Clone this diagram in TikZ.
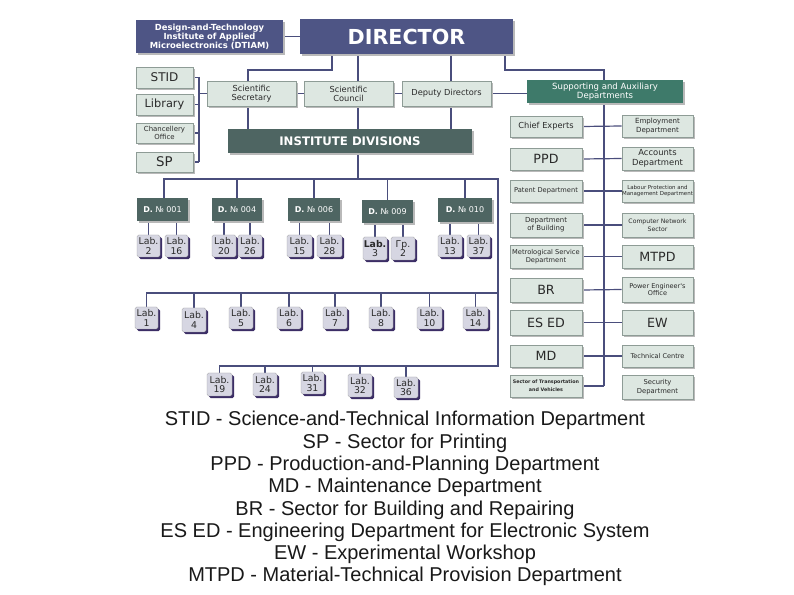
\documentclass[tikz,border=0pt]{standalone}
\usepackage{fontspec}
\setmainfont{Liberation Sans}
\newfontfamily\dv{DejaVu Sans}
\usetikzlibrary{shadows,backgrounds}
\definecolor{dirblue}{HTML}{4E5585}
\definecolor{divteal}{HTML}{4E6562}
\definecolor{supgreen}{HTML}{3E7A6A}
\definecolor{lightfill}{HTML}{DDE7E1}
\definecolor{lightedge}{HTML}{8E9C96}
\definecolor{labfill}{HTML}{D6D6E2}
\definecolor{labshadow}{HTML}{3C2E66}
\definecolor{linec}{HTML}{4A4E7C}
\definecolor{txt}{HTML}{2A2A2A}
\newcommand\bx[7]{\node[#6, minimum width={(#4-#2)*0.75pt}, minimum height={(#5-#3)*0.75pt}] (#1) at ({(#2+#4)/2},{(#3+#5)/2}) {#7};}
\tikzset{
  basebox/.style={inner sep=0pt, align=center, text=txt},
  darkbox/.style={basebox, fill=dirblue, text=white, general shadow={fill=gray!55, shadow xshift=1.5pt, shadow yshift=-1.5pt}},
  divbox/.style={basebox, fill=divteal, text=white, general shadow={fill=gray!55, shadow xshift=1.3pt, shadow yshift=-1.3pt}},
  supbox/.style={basebox, fill=supgreen, text=white, general shadow={fill=gray!55, shadow xshift=1.3pt, shadow yshift=-1.3pt}},
  lightbox/.style={basebox, fill=lightfill, draw=lightedge, line width=0.4pt, general shadow={fill=gray!55, shadow xshift=1.4pt, shadow yshift=-1.4pt}},
  labbox/.style={basebox, fill=labfill, draw=gray!70, line width=0.3pt, rounded corners=1.2pt, general shadow={fill=labshadow, shadow xshift=1.6pt, shadow yshift=-1.6pt}, font=\dv\fontsize{7}{7}\selectfont},
  conn/.style={draw=linec, line width=0.9pt},
  legend/.style={anchor=base, inner sep=0pt, text=black!90, font=\fontsize{15}{17}\selectfont}
}
\begin{document}
\begin{tikzpicture}[x=0.75pt, y=-0.75pt]
\useasboundingbox (0,0) rectangle (794,595);
% top
\bx{dtiam}{136}{20}{283}{53}{darkbox, font=\dv\bfseries\fontsize{6.3}{6.7}\selectfont}{Design-and-Technology\\Institute of Applied\\Microelectronics (DTIAM)}
\bx{director}{300}{19}{513}{54}{darkbox, font=\dv\bfseries\fontsize{15.5}{16}\selectfont}{DIRECTOR}
% left column
\bx{stid}{136}{67}{193}{88}{lightbox, font=\dv\fontsize{9}{10}\selectfont}{STID}
\bx{library}{136}{94}{193}{115}{lightbox, font=\dv\fontsize{8.5}{10}\selectfont}{Library}
\bx{chanc}{136}{123}{193}{143}{lightbox, font=\dv\fontsize{5.2}{5.8}\selectfont}{Chancellery\\Office}
\bx{sp}{136}{152}{193}{172}{lightbox, font=\dv\fontsize{10}{11}\selectfont}{SP}
% second row
\bx{scisec}{207}{81}{296}{106}{lightbox, font=\dv\fontsize{6.2}{6.8}\selectfont}{Scientific\\Secretary}
\bx{council}{304}{81}{393}{106}{lightbox, font=\dv\fontsize{6.2}{6.8}\selectfont}{Scientific\\Council}
\bx{deputy}{402}{81}{491}{106}{lightbox, font=\dv\fontsize{6.2}{6.8}\selectfont}{Deputy Directors}
\bx{support}{527}{80}{683}{103}{supbox, font=\dv\fontsize{6.4}{7}\selectfont}{Supporting and Auxiliary\\Departments}
% institute divisions
\bx{instdiv}{228}{129}{472}{153}{divbox, font=\dv\bfseries\fontsize{8.8}{10}\selectfont}{INSTITUTE DIVISIONS}
% divisions
\bx{d001}{137}{198}{188}{221}{divbox, font=\dv\fontsize{6}{7}\selectfont}{\textbf{D.} № 001}
\bx{d004}{212}{198}{262}{221}{divbox, font=\dv\fontsize{6}{7}\selectfont}{\textbf{D.} № 004}
\bx{d006}{288}{198}{340}{221}{divbox, font=\dv\fontsize{6}{7}\selectfont}{\textbf{D.} № 006}
\bx{d009}{362}{200}{413}{223}{divbox, font=\dv\fontsize{6}{7}\selectfont}{\textbf{D.} № 009}
\bx{d010}{438}{198}{492}{222}{divbox, font=\dv\fontsize{6}{7}\selectfont}{\textbf{D.} № 010}
% labs under divisions
\bx{lab2}{137}{235}{160}{257}{labbox}{Lab.\\2}
\bx{lab16}{165}{235}{188}{257}{labbox}{Lab.\\16}
\bx{lab20}{212}{235}{236}{257}{labbox}{Lab.\\20}
\bx{lab26}{238}{235}{262}{257}{labbox}{Lab.\\26}
\bx{lab15}{287}{235}{312}{257}{labbox}{Lab.\\15}
\bx{lab28}{317}{235}{342}{257}{labbox}{Lab.\\28}
\bx{lab3}{363}{237}{387}{260}{labbox}{\textbf{Lab.}\\3}
\bx{gr2}{391}{237}{415}{260}{labbox}{Гр.\\2}
\bx{lab13}{438}{235}{462}{257}{labbox}{Lab.\\13}
\bx{lab37}{467}{235}{490}{257}{labbox}{Lab.\\37}
% row 3
\bx{lab1}{135}{307}{158}{329}{labbox}{Lab.\\1}
\bx{lab4}{182}{308}{206}{332}{labbox}{Lab.\\4}
\bx{lab5}{229}{307}{253}{329}{labbox}{Lab.\\5}
\bx{lab6}{277}{307}{301}{329}{labbox}{Lab.\\6}
\bx{lab7}{323}{307}{347}{329}{labbox}{Lab.\\7}
\bx{lab8}{369}{307}{393}{329}{labbox}{Lab.\\8}
\bx{lab10}{417}{307}{442}{329}{labbox}{Lab.\\10}
\bx{lab14}{463}{307}{488}{329}{labbox}{Lab.\\14}
% row 4
\bx{lab19}{207}{373}{232}{396}{labbox}{Lab.\\19}
\bx{lab24}{253}{373}{277}{396}{labbox}{Lab.\\24}
\bx{lab31}{301}{372}{324}{394}{labbox}{Lab.\\31}
\bx{lab32}{348}{374}{372}{397}{labbox}{Lab.\\32}
\bx{lab36}{394}{377}{418}{398}{labbox}{Lab.\\36}
% right column, left boxes
\bx{chief}{510}{116}{582}{137}{lightbox, font=\dv\fontsize{6.2}{7}\selectfont}{Chief Experts}
\bx{ppd}{510}{148}{582}{170}{lightbox, font=\dv\fontsize{9.5}{10}\selectfont}{PPD}
\bx{patent}{510}{180}{582}{202}{lightbox, font=\dv\fontsize{5}{6}\selectfont}{Patent Department}
\bx{building}{510}{213}{582}{237}{lightbox, font=\dv\fontsize{5.2}{6.2}\selectfont}{Department\\of Building}
\bx{metro}{510}{245}{582}{268}{lightbox, font=\dv\fontsize{5}{6}\selectfont}{Metrological Service\\Department}
\bx{br}{510}{278}{582}{302}{lightbox, font=\dv\fontsize{9.5}{10}\selectfont}{BR}
\bx{esed}{510}{310}{582}{335}{lightbox, font=\dv\fontsize{9.5}{10}\selectfont}{ES ED}
\bx{md}{510}{345}{582}{367}{lightbox, font=\dv\fontsize{9.5}{10}\selectfont}{MD}
\bx{transp}{510}{375}{582}{397}{lightbox, font=\dv\bfseries\fontsize{3.6}{6}\selectfont}{Sector of Transportation\\and Vehicles}
% right column, right boxes
\bx{employ}{622}{115}{693}{137}{lightbox, font=\dv\fontsize{5.3}{6.2}\selectfont}{Employment\\Department}
\bx{accounts}{622}{147}{693}{170}{lightbox, font=\dv\fontsize{6.3}{7.3}\selectfont}{Accounts\\Department}
\bx{labour}{622}{180}{693}{202}{lightbox, font=\dv\fontsize{4.1}{5}\selectfont}{Labour Protection and\\Management Department}
\bx{computer}{622}{213}{693}{237}{lightbox, font=\dv\fontsize{4.6}{5.8}\selectfont}{Computer Network\\Sector}
\bx{mtpd}{622}{245}{693}{268}{lightbox, font=\dv\fontsize{9.5}{10}\selectfont}{MTPD}
\bx{power}{622}{277}{693}{302}{lightbox, font=\dv\fontsize{4.9}{5.8}\selectfont}{Power Engineer's\\Office}
\bx{ew}{622}{310}{693}{335}{lightbox, font=\dv\fontsize{9.5}{10}\selectfont}{EW}
\bx{techc}{622}{345}{693}{367}{lightbox, font=\dv\fontsize{4.9}{5.8}\selectfont}{Technical Centre}
\bx{security}{622}{375}{693}{399}{lightbox, font=\dv\fontsize{5.1}{6.2}\selectfont}{Security\\Department}
% legend
\node[legend] (leg1) at (405,426) {STID - Science-and-Technical Information Department};
\node[legend] (leg2) at (405,448.3) {SP - Sector for Printing};
\node[legend] (leg3) at (405,470.6) {PPD - Production-and-Planning Department};
\node[legend] (leg4) at (405,492.9) {MD - Maintenance Department};
\node[legend] (leg5) at (405,515.1) {BR - Sector for Building and Repairing};
\node[legend] (leg6) at (405,537.4) {ES ED - Engineering Department for Electronic System};
\node[legend] (leg7) at (405,559.7) {EW - Experimental Workshop};
\node[legend] (leg8) at (405,582) {MTPD - Material-Technical Provision Department};
% junction coordinates
\coordinate (jA) at (332,70);
\coordinate (jB) at (248,70);
\coordinate (jC) at (358,179);
\coordinate (jD) at (451,70);
\coordinate (jE) at (505,70);
\coordinate (jF) at (604,70);
\coordinate (lbtop) at (199,77);
\coordinate (lbbot) at (199,162);
\coordinate (hL) at (164,179);
\coordinate (hR) at (498,179);
\coordinate (r3R) at (498,293);
\coordinate (r4R) at (498,366);
\begin{pgfonlayer}{background}
\fill[white] (0,0) rectangle (794,595);
% director links
\draw[conn] (dtiam.east) -- (dtiam.east -| director.west);
\draw[conn] (director.south -| jA) -- (jA) -- (jB) -- (jB |- instdiv.north);
\draw[conn] (director.south -| jC) -- (jC);
\draw[conn] (director.south -| jD) -- (jD |- instdiv.north);
\draw[conn] (director.south -| jE) -- (jE) -- (jF) -- (jF |- transp.east);
% second row links
\draw[conn] (scisec.east) -- (council.west);
\draw[conn] (council.east) -- (deputy.west);
\draw[conn] (deputy.east) -- (deputy.east -| support.west);
% left bracket
\draw[conn] (lbtop) -- (lbbot);
\draw[conn] (stid.east) -- (stid.east -| lbtop);
\draw[conn] (library.east) -- (library.east -| lbtop);
\draw[conn] (chanc.east) -- (chanc.east -| lbtop);
\draw[conn] (sp.east) -- (sp.east -| lbtop);
\draw[conn] (scisec.west) -- (scisec.west -| lbtop);
% division trunk
\draw[conn] (d001.north -| hL) -- (hL) -- (hR) -- (r4R) -- (r4R -| lab19.north) -- (lab19.north);
\draw[conn] (d004.north) -- (d004.north |- hL);
\draw[conn] (d006.north) -- (d006.north |- hL);
\draw[conn] (d009.north) -- (d009.north |- hL);
\draw[conn] (d010.north) -- (d010.north |- hL);
% labs under divisions
\foreach \l/\d in {lab2/d001, lab16/d001, lab20/d004, lab26/d004, lab15/d006, lab28/d006, lab3/d009, gr2/d009, lab13/d010, lab37/d010}
  \draw[conn] (\l.north) -- (\l.north |- \d.south);
% row 3
\draw[conn] (lab1.north) -- (lab1.north |- r3R) -- (r3R);
\foreach \l in {lab4, lab5, lab6, lab7, lab8, lab10, lab14}
  \draw[conn] (\l.north) -- (\l.north |- r3R);
% row 4
\foreach \l in {lab24, lab31, lab32, lab36}
  \draw[conn] (\l.north) -- (\l.north |- r4R);
% right column
\draw[conn] (chief.east) -- (employ.west);
\draw[conn] (ppd.east) -- (accounts.west);
\draw[conn] (patent.east) -- (labour.west);
\draw[conn] (building.east) -- (computer.west);
\draw[conn] (metro.east) -- (mtpd.west);
\draw[conn] (br.east) -- (power.west);
\draw[conn] (esed.east) -- (ew.west);
\draw[conn] (md.east) -- (techc.west);
\draw[conn] (transp.east) -- (transp.east -| jF);
\end{pgfonlayer}
\end{tikzpicture}
\end{document}
